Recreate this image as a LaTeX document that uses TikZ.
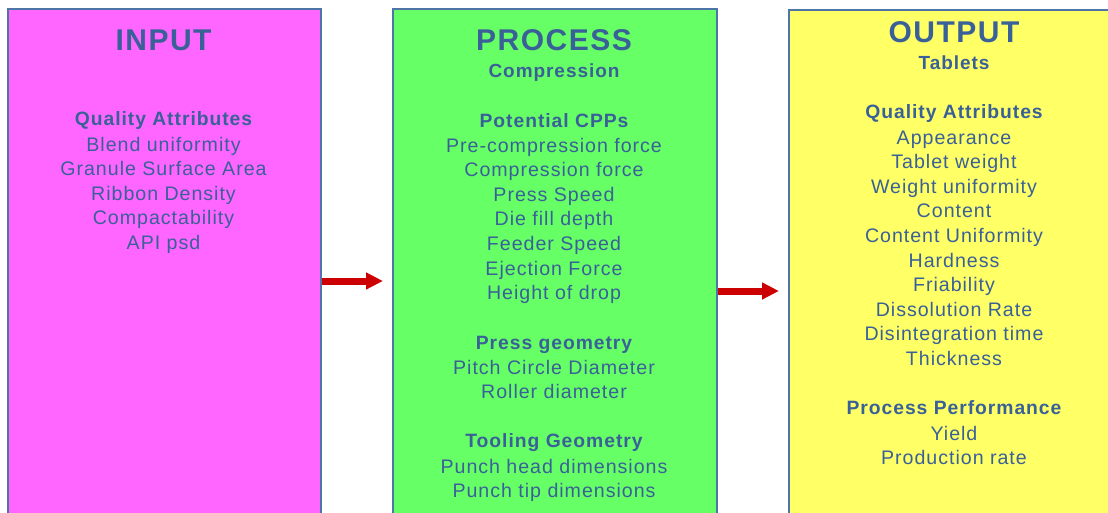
\documentclass[tikz,border=0pt]{standalone}
\usepackage{fontspec}
\setmainfont{Liberation Sans}
\usetikzlibrary{arrows.meta}
\definecolor{inmag}{HTML}{FF66FF}
\definecolor{prgreen}{HTML}{66FF66}
\definecolor{outyel}{HTML}{FFFF66}
\definecolor{txt}{HTML}{3A6098}
\definecolor{edgeblue}{HTML}{4F75A8}
\definecolor{arrred}{HTML}{CC0000}
\tikzset{
  panel/.style={draw=edgeblue, line width=1.5pt, anchor=north west, inner sep=0pt},
  ttl/.style={font=\fontsize{30}{30}\selectfont\bfseries\addfontfeatures{LetterSpace=5}, text=txt, inner sep=0pt, text height=21.5pt, text depth=0pt},
  sub/.style={font=\fontsize{19}{19}\selectfont\bfseries\addfontfeatures{LetterSpace=5}, text=txt, inner sep=0pt, text height=13.6pt, text depth=0pt},
  hd/.style={font=\fontsize{19.3}{19.3}\selectfont\bfseries\addfontfeatures{LetterSpace=5}, text=txt, inner sep=0pt, text height=13.8pt, text depth=0pt},
  ln/.style={font=\fontsize{19.6}{19.6}\selectfont\addfontfeatures{LetterSpace=5}, text=txt, inner sep=0pt, text height=14pt, text depth=0pt},
  flow/.style={draw=arrred, line width=7pt, -{Triangle[length=17pt,width=16pt]}, shorten >=9pt}
}
\begin{document}
\begin{tikzpicture}[x=1pt,y=-1pt]
\useasboundingbox (0,0) rectangle (1108,512);
% panels
\node[panel, fill=inmag, minimum width=313pt, minimum height=530pt] (inbox) at (7,8) {};
\node[panel, fill=prgreen, minimum width=324pt, minimum height=530pt] (prbox) at (392,8) {};
\node[panel, fill=outyel, minimum width=330pt, minimum height=530pt] (outbox) at (788,9) {};
% INPUT
\node[ttl] (inttl) at (163.5,40) {INPUT};
\node[hd] (inqa) at (163.5,119) {Quality Attributes};
\foreach \t [count=\i] in {Blend uniformity, Granule Surface Area, Ribbon Density, Compactability, API psd}
  \node[ln] (in-\i) at (163.5,{144+24.6*(\i-1)}) {\t};
% PROCESS
\node[ttl] (prttl) at (554,40) {PROCESS};
\node[sub] (prsub) at (554,71) {Compression};
\node[hd] (prcpp) at (554,121) {Potential CPPs};
\foreach \t [count=\i] in {Pre-compression force, Compression force, Press Speed, Die fill depth, Feeder Speed, Ejection Force, Height of drop}
  \node[ln] (pa-\i) at (554,{145+24.6*(\i-1)}) {\t};
\node[hd] (prgeo) at (554,343) {Press geometry};
\foreach \t [count=\i] in {Pitch Circle Diameter, Roller diameter}
  \node[ln] (pb-\i) at (554,{367+24.6*(\i-1)}) {\t};
\node[hd] (prtool) at (554,441) {Tooling Geometry};
\foreach \t [count=\i] in {Punch head dimensions, Punch tip dimensions}
  \node[ln] (pc-\i) at (554,{466+24.6*(\i-1)}) {\t};
% OUTPUT
\node[ttl] (outttl) at (954,32) {OUTPUT};
\node[sub] (outsub) at (954,63) {Tablets};
\node[hd] (outqa) at (954,112) {Quality Attributes};
\foreach \t [count=\i] in {Appearance, Tablet weight, Weight uniformity, Content, Content Uniformity, Hardness, Friability, Dissolution Rate, Disintegration time, Thickness}
  \node[ln] (oa-\i) at (954,{137+24.6*(\i-1)}) {\t};
\node[hd] (outpp) at (954,408) {Process Performance};
\foreach \t [count=\i] in {Yield, Production rate}
  \node[ln] (ob-\i) at (954,{433+24.6*(\i-1)}) {\t};
% arrows
\coordinate (a1) at (0,281);
\coordinate (a2) at (0,291);
\draw[flow] (inbox.east |- a1) -- (prbox.west |- a1);
\draw[flow] (prbox.east |- a2) -- (outbox.west |- a2);
\end{tikzpicture}
\end{document}
